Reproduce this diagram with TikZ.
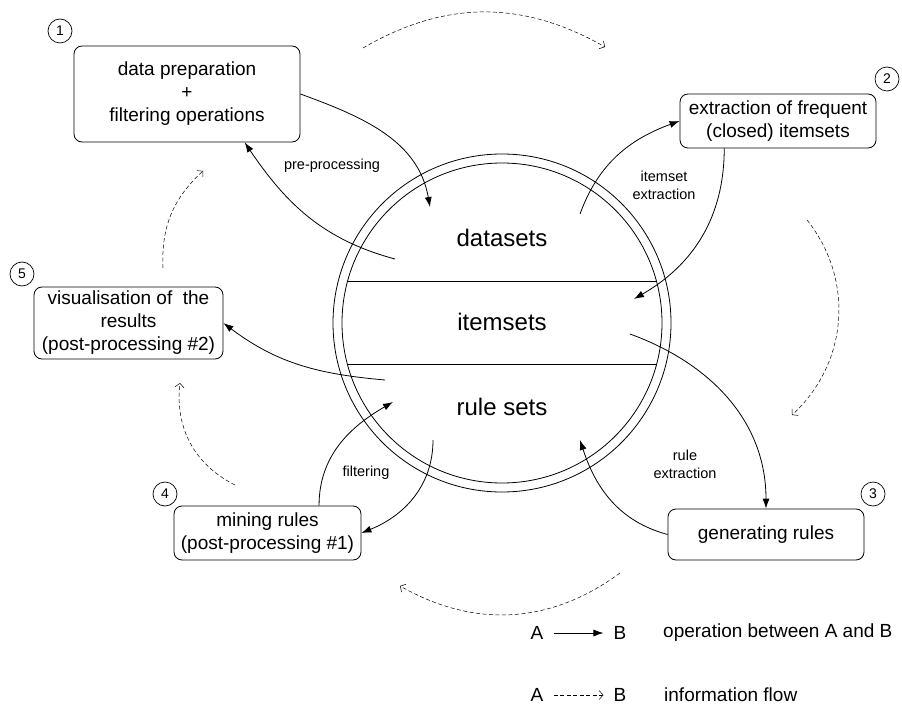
\documentclass[tikz,border=0pt]{standalone}
\usepackage{fontspec}
\setmainfont{Liberation Sans}
\usetikzlibrary{arrows.meta}

\begin{document}
\begin{tikzpicture}[x=1pt,y=-1pt,
  box/.style={draw,line width=0.8pt,rounded corners=8pt,align=center,inner sep=0pt,font=\fontsize{19}{23}\selectfont},
  num/.style={draw,circle,line width=0.7pt,minimum size=24pt,inner sep=0pt,font=\fontsize{14}{14}\selectfont},
  band/.style={font=\fontsize{24}{28}\selectfont},
  tlabel/.style={align=center,font=\fontsize{14.5}{18}\selectfont},
  lgd/.style={inner sep=10pt,font=\fontsize{19}{23}\selectfont},
  op/.style={-{Latex[length=10pt,width=7pt]},line width=0.8pt},
  flow/.style={-{Straight Barb[length=4pt,width=9pt]},line width=0.5pt,dash pattern=on 4pt off 2.5pt}
]
\useasboundingbox (0,0) rectangle (902,714);
% central store
\node[circle,draw,line width=0.8pt,minimum size=338pt] (outer) at (502,323) {};
\node[circle,draw,line width=0.8pt,minimum size=320pt] (inner) at (502,323) {};
\draw[line width=0.8pt] (inner.165) -- (inner.15);
\draw[line width=0.8pt] (inner.195) -- (inner.-15);
\node[band] (data) at (502,238) {datasets};
\node[band] (items) at (502,322) {itemsets};
\node[band] (rules) at (502,407) {rule sets};

% steps
\node[box,minimum width=226pt,minimum height=96pt] (prep) at (187,94) {data preparation\\+\\filtering operations};
\node[box,minimum width=196pt,minimum height=54pt] (freq) at (778,121) {extraction of frequent\\(closed) itemsets};
\node[box,minimum width=196pt,minimum height=51pt] (gen) at (766,534.5) {generating rules};
\node[box,minimum width=187pt,minimum height=54pt] (mine) at (267.5,533) {mining rules\\(post-processing \#1)};
\node[box,minimum width=189pt,minimum height=72pt] (visu) at (128.5,323) {visualisation of\ \ the\\results\\(post-processing \#2)};

\node[num] (n1) at (60,31) {1};
\node[num] (n2) at (887,79) {2};
\node[num] (n3) at (873,494) {3};
\node[num] (n4) at (165,494) {4};
\node[num] (n5) at (22,274) {5};

% free ends inside the circle
\coordinate (dataIn) at (430,207);
\coordinate (dataOut) at (395,259);
\coordinate (dataUp) at (580,214);
\coordinate (itemIn) at (634,299);
\coordinate (itemOut) at (630,334);
\coordinate (ruleIn) at (580,440);
\coordinate (ruleOut) at (433,440);
\coordinate (ruleBack) at (393,402);
\coordinate (ruleVis) at (385,380);

% operations
\draw[op] (prep.east) to[out=-20,in=100] (dataIn);
\draw[op] (dataOut) to[out=165,in=-56] (prep.-40);
\draw[op] (dataUp) to[out=70,in=200] (freq.west);
\draw[op] (freq.-153) to[out=-90,in=30] (itemIn);
\draw[op] (itemOut) to[out=-20,in=90] (gen.north);
\draw[op] (gen.west) to[out=165,in=-72] (ruleIn);
\draw[op] (ruleOut) to[out=-90,in=22] (mine.east);
\draw[op] (mine.28) to[out=90,in=210] (ruleBack);
\draw[op] (ruleVis) to[out=175,in=-37] (visu.east);

\node[tlabel] (lpre) at (332,166) {pre-processing};
\node[tlabel] (lits) at (664,185) {itemset\\extraction};
\node[tlabel] (lrul) at (685,464) {rule\\extraction};
\node[tlabel] (lfil) at (366,473) {filtering};

% information flow
\coordinate (f1s) at (363,48);  \coordinate (f1e) at (605,47);
\coordinate (f2s) at (807,220); \coordinate (f2e) at (792,415);
\coordinate (f3s) at (620,573); \coordinate (f3e) at (400,586);
\coordinate (f4s) at (235,485); \coordinate (f4e) at (180,383);
\coordinate (f5s) at (163,268); \coordinate (f5e) at (203,171);
\draw[flow] (f1s) to[bend left=30] (f1e);
\draw[flow] (f2s) to[bend left=43] (f2e);
\draw[flow] (f3s) to[bend left=33] (f3e);
\draw[flow] (f4s) to[bend left=35] (f4e);
\draw[flow] (f5s) to[bend left=25] (f5e);

% legend
\node[lgd] (a1) at (537,633) {A};
\node[lgd] (b1) at (620,633) {B};
\node[lgd,inner sep=0pt,anchor=west] (t1) at (663,633) {operation between A and B};
\draw[op] (a1) -- (b1);
\node[lgd] (a2) at (537,695) {A};
\node[lgd] (b2) at (620,695) {B};
\node[lgd,inner sep=0pt,anchor=west] (t2) at (664,695) {information flow};
\draw[flow] (a2) -- (b2);
\end{tikzpicture}
\end{document}
